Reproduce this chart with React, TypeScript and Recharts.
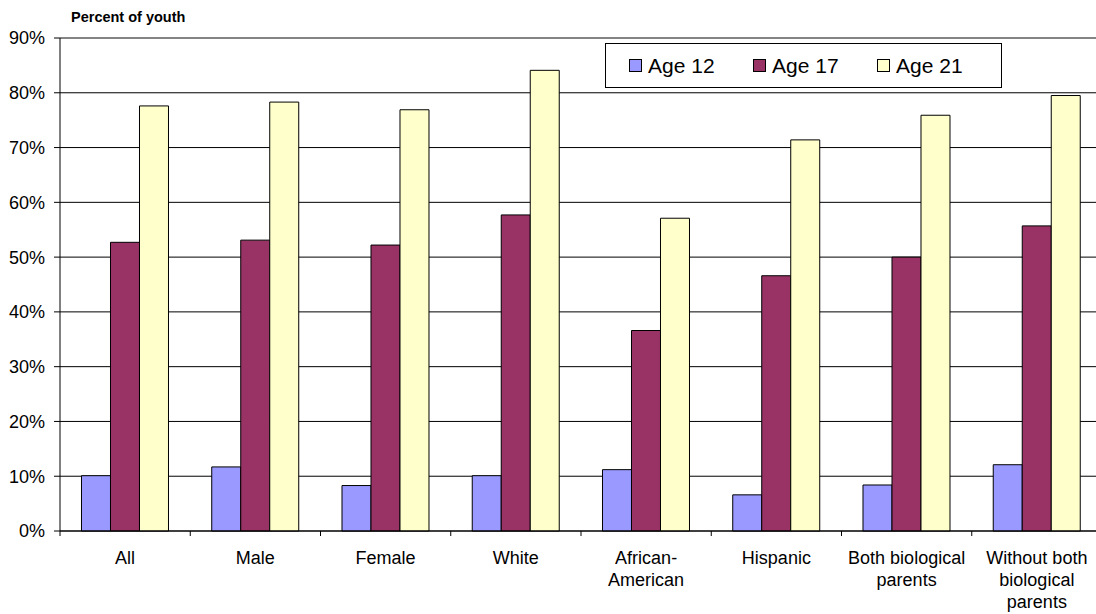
import React from 'react';
import { BarChart, Bar, XAxis, YAxis, CartesianGrid, ReferenceLine, Legend } from 'recharts';

const categories = [
  'All',
  'Male',
  'Female',
  'White',
  'African-\nAmerican',
  'Hispanic',
  'Both biological\nparents',
  'Without both\nbiological\nparents',
];

const age12 = [10.1, 11.7, 8.3, 10.1, 11.2, 6.6, 8.4, 12.1];
const age17 = [52.7, 53.1, 52.2, 57.7, 36.6, 46.6, 50.0, 55.7];
const age21 = [77.6, 78.3, 76.9, 84.1, 57.1, 71.4, 75.9, 79.5];

const yTicks = [0, 10, 20, 30, 40, 50, 60, 70, 80, 90];

const data = categories.map((name, i) => ({
  name,
  age12: age12[i],
  age17: age17[i],
  age21: age21[i],
}));

const FONT = '"Liberation Sans", Arial, sans-serif';
const CHART_W = 1104;
const MARGIN = { top: 38, right: 2, left: 0, bottom: 0 };
const Y_AXIS_W = 60;
const BAND = (CHART_W - MARGIN.left - MARGIN.right - Y_AXIS_W) / categories.length;

const CategoryTick = ({ x, y, payload }: any) => {
  const lines = String(payload.value).split('\n');
  const bx = x - BAND / 2;
  return (
    <g>
      <line x1={bx} x2={bx} y1={y - 5} y2={y} stroke="#000" strokeWidth={1} />
      <text x={x} y={y + 28} textAnchor="middle" fill="#000" style={{ fontSize: 18, fontFamily: FONT }}>
        {lines.map((l, i) => (
          <tspan key={i} x={x} dy={i === 0 ? 0 : 22}>
            {l}
          </tspan>
        ))}
      </text>
    </g>
  );
};

const LegendBox = ({ payload }: any) => (
  <div
    style={{
      boxSizing: 'border-box',
      width: 397,
      height: 45,
      border: '1px solid #000',
      background: '#fff',
      display: 'flex',
      alignItems: 'center',
      paddingLeft: 23,
      fontFamily: FONT,
      fontSize: 21,
      color: '#000',
    }}
  >
    {(payload || []).map((p: any, i: number) => (
      <div key={i} style={{ display: 'flex', alignItems: 'center', width: 132.5 }}>
        <span
          style={{
            display: 'inline-block',
            width: 13,
            height: 13,
            background: p.color,
            border: '1px solid #000',
            boxSizing: 'border-box',
            marginRight: 6,
          }}
        />
        <span>{p.value}</span>
      </div>
    ))}
  </div>
);

export default function App() {
  return (
    <div style={{ position: 'absolute', left: 0, top: 0, width: 1096, height: 614, overflow: 'hidden', background: '#fff' }}>
      <div
        style={{
          position: 'absolute',
          left: 71,
          top: 9,
          fontFamily: FONT,
          fontWeight: 'bold',
          fontSize: 14.5,
          color: '#000',
        }}
      >
        Percent of youth
      </div>
      <BarChart
        width={CHART_W}
        height={614}
        data={data}
        margin={MARGIN}
        barCategoryGap="16.5%"
        barGap={0}
      >
        <CartesianGrid vertical={false} stroke="#000" strokeWidth={1} />
        <ReferenceLine y={90} stroke="#888" strokeWidth={1} />
        <XAxis
          dataKey="name"
          interval={0}
          height={83}
          tickLine={false}
          tickSize={5}
          tickMargin={0}
          axisLine={{ stroke: '#000' }}
          tick={<CategoryTick />}
        />
        <YAxis
          width={Y_AXIS_W}
          domain={[0, 90]}
          ticks={yTicks}
          interval={0}
          tickFormatter={(v: number) => `${v}%`}
          tickSize={6}
          tickMargin={9}
          axisLine={{ stroke: '#000' }}
          tickLine={{ stroke: '#000' }}
          tick={{ fill: '#000', fontSize: 18, fontFamily: FONT }}
        />
        <Legend
          layout="horizontal"
          verticalAlign="middle"
          align="center"
          wrapperStyle={{ top: 43, left: 605, width: 397, height: 45 }}
          content={<LegendBox />}
        />
        <Bar dataKey="age12" name="Age 12" fill="#9999FF" stroke="#000" strokeWidth={1} isAnimationActive={false} />
        <Bar dataKey="age17" name="Age 17" fill="#993366" stroke="#000" strokeWidth={1} isAnimationActive={false} />
        <Bar dataKey="age21" name="Age 21" fill="#FFFFCC" stroke="#000" strokeWidth={1} isAnimationActive={false} />
      </BarChart>
    </div>
  );
}
